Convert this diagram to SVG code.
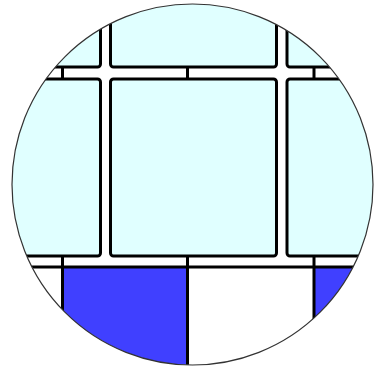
<svg xmlns="http://www.w3.org/2000/svg" width="376" height="372" viewBox="0 0 376 372">
  <style>
    .cell { fill: #e0ffff; stroke: #000; stroke-width: 3; }
    .blue { fill: #4040ff; stroke: none; }
    .grid { stroke: #000; stroke-width: 3; fill: none; }
    .rim { fill: none; stroke: #333; stroke-width: 1.2; }
  </style>
  <defs>
    <clipPath id="disc">
      <circle cx="192.5" cy="184.5" r="180.5"/>
    </clipPath>
  </defs>
  <rect width="376" height="372" fill="#fff"/>
  <g clip-path="url(#disc)">
    <g id="bottom-row">
      <rect class="blue" x="62.5" y="267" width="125" height="120"/>
      <rect class="blue" x="314" y="267" width="90" height="120"/>
    </g>
    <g id="grid-lines">
      <line class="grid" x1="0" y1="267" x2="376" y2="267"/>
      <line class="grid" x1="62.5" y1="256" x2="62.5" y2="380"/>
      <line class="grid" x1="187.5" y1="256" x2="187.5" y2="380"/>
      <line class="grid" x1="314" y1="256" x2="314" y2="380"/>
      <line class="grid" x1="62.5" y1="67" x2="62.5" y2="79"/>
      <line class="grid" x1="187.5" y1="67" x2="187.5" y2="79"/>
      <line class="grid" x1="314" y1="67" x2="314" y2="79"/>
    </g>
    <g id="cell-top-left"><rect class="cell" x="-20" y="-20" width="120.5" height="87" rx="3"/></g>
    <g id="cell-top-mid"><rect class="cell" x="110.5" y="-20" width="166" height="87" rx="3"/></g>
    <g id="cell-top-right"><rect class="cell" x="287" y="-20" width="120" height="87" rx="3"/></g>
    <g id="cell-mid-left"><rect class="cell" x="-20" y="79" width="120.5" height="177" rx="3"/></g>
    <g id="cell-mid-center"><rect class="cell" x="110.5" y="79" width="166" height="177" rx="3"/></g>
    <g id="cell-mid-right"><rect class="cell" x="287" y="79" width="120" height="177" rx="3"/></g>
  </g>
  <circle class="rim" cx="192.5" cy="184.5" r="180.5"/>
</svg>
